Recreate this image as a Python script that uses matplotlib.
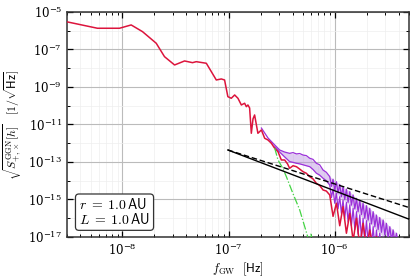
import numpy as np
import matplotlib
matplotlib.use("Agg")
import matplotlib.pyplot as plt
from matplotlib.ticker import FixedLocator, LogFormatterSciNotation, NullFormatter

plt.rcParams['mathtext.fontset'] = 'cm'
plt.rcParams['font.family'] = 'serif'
plt.rcParams['font.serif'] = ['DejaVu Serif']
plt.rcParams['font.size'] = 8

# GGN strain spectrum (log10 f, log10 sqrt(S))
red_logf = [-8.531, -8.236, -8.028, -7.918, -7.811, -7.682, -7.604, -7.509, -7.415,
            -7.340, -7.305, -7.210, -7.116, -7.069, -7.038, -7.007, -6.975, -6.943,
            -6.912, -6.880, -6.849, -6.833, -6.818, -6.802, -6.786, -6.770, -6.755,
            -6.724, -6.691, -6.660, -6.629, -6.597, -6.566, -6.535, -6.503, -6.472,
            -6.445, -6.425, -6.393, -6.361, -6.330, -6.299, -6.268, -6.236, -6.205,
            -6.173, -6.142, -6.110, -6.079, -6.047, -6.016, -5.984, -5.953, -5.922,
            -5.890, -5.858, -5.827, -5.795, -5.764, -5.733, -5.701, -5.670, -5.638,
            -5.607, -5.576, -5.545]
red_logh = [-5.517, -5.869, -5.869, -5.693, -6.051, -6.669, -7.384, -7.827, -7.613,
            -7.704, -7.651, -7.736, -8.627, -8.573, -8.627, -9.517, -9.603, -9.427,
            -9.603, -9.960, -9.869, -10.051, -9.960, -10.12, -11.469, -10.70, -10.493,
            -11.469, -11.293, -11.736, -11.827, -12.003, -12.269, -12.451, -12.893, -12.893,
            -13.10, -13.336, -13.20, -13.251, -13.38, -13.517, -13.60, -13.784, -13.90,
            -14.136, -14.25, -14.493, -14.55, -14.76, -15.90, -15.20, -16.40, -15.38,
            -16.80, -15.74, -17.20, -16.00, -17.50, -16.27, -17.60, -16.63, -17.60,
            -16.98, -17.60, -17.30]

# purple band envelope
band_logf = [-6.629, -6.566, -6.519, -6.472, -6.425, -6.361, -6.299, -6.236, -6.173,
             -6.110, -6.047, -5.984, -5.922, -5.858, -5.795, -5.733, -5.670, -5.607,
             -5.544, -5.481, -5.418]
band_hi = [-11.72, -12.09, -12.36, -12.47, -12.54, -12.57, -12.63, -12.80, -13.07,
           -13.43, -13.78, -14.05, -14.32, -14.58, -14.94, -15.20, -15.47, -15.83,
           -16.09, -16.45, -16.80]
band_lo = [-11.80, -12.20, -12.47, -12.73, -12.98, -13.07, -13.15, -13.25, -13.60,
           -13.87, -14.23, -14.67, -15.03, -15.29, -15.65, -16.00, -16.27, -16.63,
           -16.98, -17.30, -17.60]

# purple lines (with the high-frequency ripples)
up_logf = [-6.691, -6.629, -6.566, -6.519, -6.472, -6.425, -6.393, -6.361, -6.330,
           -6.299, -6.268, -6.236, -6.205, -6.173, -6.142, -6.110, -6.079, -6.047,
           -6.031, -6.016, -6.000, -5.984, -5.969, -5.953, -5.937, -5.922, -5.906,
           -5.890, -5.874, -5.858, -5.843, -5.827, -5.811, -5.795, -5.780, -5.764,
           -5.748, -5.733, -5.717, -5.701, -5.685, -5.670, -5.654, -5.638, -5.622,
           -5.607, -5.591, -5.576, -5.560, -5.544, -5.528, -5.513, -5.497, -5.481,
           -5.465, -5.450, -5.434, -5.418, -5.402, -5.387, -5.360]
up_logh = [-11.19, -11.72, -12.09, -12.36, -12.47, -12.54, -12.50, -12.57, -12.55,
           -12.63, -12.66, -12.80, -12.86, -13.07, -13.15, -13.43, -13.55, -13.78,
           -14.30, -13.92, -14.50, -14.05, -14.65, -14.20, -14.85, -14.32, -15.00,
           -14.45, -15.15, -14.58, -15.30, -14.76, -15.50, -14.94, -15.65, -15.07,
           -15.80, -15.20, -16.00, -15.33, -16.10, -15.47, -16.30, -15.65, -16.45,
           -15.83, -16.60, -15.96, -16.75, -16.09, -16.90, -16.27, -17.05, -16.45,
           -17.20, -16.62, -17.30, -16.80, -17.40, -17.05, -17.30]
lo_logf = [-6.566, -6.519, -6.472, -6.425, -6.393, -6.361, -6.330, -6.299, -6.268,
           -6.236, -6.205, -6.173, -6.142, -6.110, -6.079, -6.047, -6.031, -6.016,
           -6.000, -5.984, -5.969, -5.953, -5.937, -5.922, -5.906, -5.890, -5.874,
           -5.858, -5.843, -5.827, -5.811, -5.795, -5.780, -5.764, -5.748, -5.733,
           -5.717, -5.701, -5.685, -5.670, -5.654, -5.638, -5.622, -5.607, -5.591,
           -5.576, -5.560, -5.544, -5.513]
lo_logh = [-12.20, -12.47, -12.73, -12.98, -13.02, -13.07, -13.10, -13.15, -13.20,
           -13.25, -13.40, -13.60, -13.70, -13.87, -14.00, -14.23, -14.90, -14.45,
           -15.20, -14.67, -15.50, -14.85, -15.75, -15.03, -16.00, -15.16, -16.20,
           -15.29, -16.40, -15.47, -16.60, -15.65, -16.85, -15.82, -17.05, -16.00,
           -17.20, -16.13, -17.40, -16.27, -17.50, -16.45, -17.60, -16.63, -17.60,
           -16.80, -17.60, -16.98, -17.60]

# green dash-dot
green_logf = [-6.566, -6.535, -6.491, -6.456, -6.396, -6.330, -6.283, -6.255, -6.240,
              -6.225, -6.200]
green_logh = [-12.25, -12.89, -13.32, -13.78, -14.65, -15.56, -16.45, -16.98, -17.20,
              -16.85, -17.30]

# power-law reference lines
solid_logf = [-7.007, -5.305]
solid_logh = [-12.36, -16.04]
dash_logf = [-7.007, -5.305]
dash_logh = [-12.36, -15.42]

fig = plt.figure(figsize=(4.16, 2.78), dpi=100)
ax = fig.add_axes([0.161, 0.1475, 0.822, 0.8095])

p = lambda a: 10.0 ** np.array(a)

ax.fill_between(p(band_logf), p(band_lo), p(band_hi), color='#b98fe0', alpha=0.45, lw=0, zorder=2)
ax.plot(p(up_logf), p(up_logh), color='#9b30d9', lw=0.9, zorder=3)
ax.plot(p(lo_logf), p(lo_logh), color='#9b30d9', lw=0.9, zorder=3)
ax.plot(p(red_logf), p(red_logh), color='#dc143c', lw=1.1, zorder=4)
ax.plot(p(green_logf), p(green_logh), color='#44d444', lw=0.9, ls='-.', zorder=5)
ax.plot(p(solid_logf), p(solid_logh), color='black', lw=1.0, zorder=6)
ax.plot(p(dash_logf), p(dash_logh), color='black', lw=1.0, ls=(0, (4, 2)), zorder=6)

ax.set_xscale('log')
ax.set_yscale('log')
ax.set_xlim(3e-9, 5e-6)
ax.set_ylim(1e-17, 1e-5)

ax.yaxis.set_major_locator(FixedLocator([10.0 ** k for k in range(-17, -4, 2)]))
ax.yaxis.set_minor_locator(FixedLocator([10.0 ** k for k in range(-16, -5, 2)]))
ax.yaxis.set_major_formatter(LogFormatterSciNotation())
ax.yaxis.set_minor_formatter(NullFormatter())

ax.grid(True, which='major', color='#bbbbbb', lw=0.8, zorder=0)
ax.grid(True, which='minor', color='#eeeeee', lw=0.5, zorder=0)
ax.set_axisbelow(True)

ax.tick_params(which='both', direction='in', top=True, right=True, labelsize=8.5)
ax.tick_params(which='major', length=4, width=0.9)
ax.tick_params(which='minor', length=2.5, width=0.7)
for s in ax.spines.values():
    s.set_linewidth(1.1)
    s.set_color('#333333')

ax.set_xlabel(r'$f_{\rm GW}\ \ [\mathsf{Hz}]$', fontsize=9, labelpad=2)
ax.set_ylabel(r'$\sqrt{S^{\rm GGN}_{+,\times}[h]}\quad [1/\sqrt{\mathsf{Hz}}]$', fontsize=8.5, labelpad=3)

ax.text(0.035, 0.045, '$r\\;=\\;1.0\\,\\mathsf{AU}$\n$L\\;=\\;1.0\\,\\mathsf{AU}$', transform=ax.transAxes,
        fontsize=10, ha='left', va='bottom', linespacing=0.95,
        bbox=dict(boxstyle='round,pad=0.25', fc='white', ec='#333333', lw=0.9), zorder=10)

fig.savefig('out.png', dpi=100)
